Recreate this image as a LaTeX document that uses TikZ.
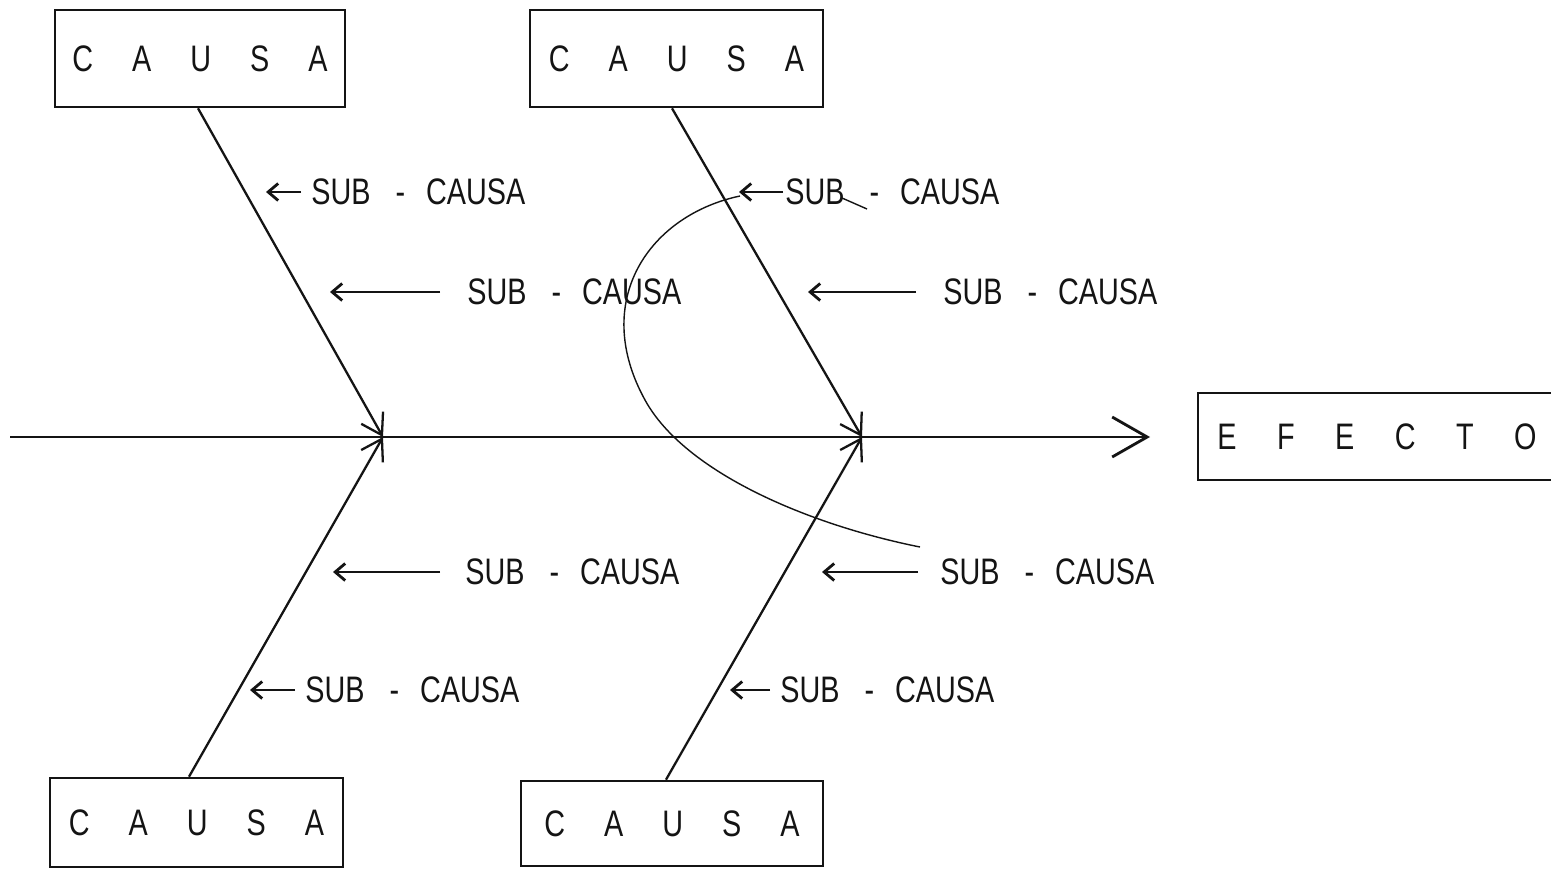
\documentclass[tikz,border=0pt]{standalone}
\usepackage{fontspec}
\setmainfont{Liberation Sans}[FakeStretch=0.78]
\usepackage{tikz}
\usetikzlibrary{arrows.meta, positioning}
\definecolor{ink}{RGB}{20, 20, 20}
\newcommand{\lsp}{\hspace{0.78cm}}
\newcommand{\esp}{\hspace{0.81cm}}
\newcommand{\subcausa}{SUB\hspace{0.5cm}-\hspace{0.42cm}CAUSA}

\begin{document}
\begin{tikzpicture}[x=0.02cm, y=-0.02cm,
    causebox/.style={draw=ink, text=ink, line width=1.5pt, rectangle, minimum width=5.8cm, minimum height=1.94cm, inner sep=0pt, font=\fontsize{21}{25}\selectfont},
    sublabel/.style={anchor=west, text=ink, inner sep=0pt, text depth=0pt, font=\fontsize{21}{25}\selectfont},
    spine/.style={draw=ink, line width=1.6pt, -{Straight Barb[length=0.7cm, width=0.8cm, line width=1.6pt]}},
    bone/.style={draw=ink, line width=1.3pt, -{Straight Barb[length=0.4cm, width=0.5cm]}},
    twig/.style={draw=ink, line width=1.6pt, -{Straight Barb[length=0.2cm, width=0.34cm]}},
    note/.style={draw=ink, line width=0.8pt}]
        \useasboundingbox[fill=white] (0,0) rectangle (1551,869);

        % Cause boxes
        \node[causebox] (c1) at (200,58.5) {C\lsp A\lsp U\lsp S\lsp A};
        \node[causebox, minimum width=5.86cm] (c2) at (676.5,58.5) {C\lsp A\lsp U\lsp S\lsp A};
        \node[causebox, minimum width=5.86cm, minimum height=1.78cm] (c3) at (196.5,822.5) {C\lsp A\lsp U\lsp S\lsp A};
        \node[causebox, minimum width=6.04cm, minimum height=1.7cm] (c4) at (672,823.5) {C\lsp A\lsp U\lsp S\lsp A};
        \node[causebox, minimum width=7.16cm, minimum height=1.74cm] (efecto) at (1377,436.5) {E\esp F\esp E\esp C\esp T\esp O};

        % Spine
        \coordinate (tail) at (10,437);
        \coordinate (j1) at (383,437);
        \coordinate (j2) at (862,437);
        \coordinate (head) at (1150,437);
        \draw[spine] (tail) -- (head);

        \draw[bone] ([xshift=-0.04cm]c1.south) -- (j1);
        \draw[bone] ([xshift=-0.09cm]c2.south) -- (j2);
        \draw[bone] ([xshift=-0.15cm]c3.north) -- (j1);
        \draw[bone] ([xshift=-0.12cm]c4.north) -- (j2);

        % Sub-causes
        \node[sublabel] (s1) at (311,192) {\subcausa};
        \node[sublabel] (s2) at (467,292) {\subcausa};
        \node[sublabel] (s3) at (785,192) {\subcausa};
        \node[sublabel] (s4) at (943,292) {\subcausa};
        \node[sublabel] (s5) at (465,572) {\subcausa};
        \node[sublabel] (s6) at (940,572) {\subcausa};
        \node[sublabel] (s7) at (305,690) {\subcausa};
        \node[sublabel] (s8) at (780,690) {\subcausa};

        \coordinate (t1) at (266,192);
        \coordinate (t2) at (330,292);
        \coordinate (t3) at (739,192);
        \coordinate (t4) at (808,292);
        \coordinate (t5) at (333,572);
        \coordinate (t6) at (822,572);
        \coordinate (t7) at (250,690);
        \coordinate (t8) at (730,690);

        \draw[twig] ([xshift=-0.2cm]s1.west) -- (t1);
        \draw[twig] ([xshift=-0.54cm]s2.west) -- (t2);
        \draw[twig] ([xshift=-0.04cm]s3.west) -- (t3);
        \draw[twig] ([xshift=-0.54cm]s4.west) -- (t4);
        \draw[twig] ([xshift=-0.5cm]s5.west) -- (t5);
        \draw[twig] ([xshift=-0.44cm]s6.west) -- (t6);
        \draw[twig] ([xshift=-0.2cm]s7.west) -- (t7);
        \draw[twig] ([xshift=-0.2cm]s8.west) -- (t8);

        % Hand-drawn loop
        \draw[note] (740,196) .. controls (650,215) and (590,300) .. (645,400)
            .. controls (685,473) and (810,525) .. (920,547);
        \draw[note] (842,198) -- (867,209);
    \end{tikzpicture}
\end{document}
